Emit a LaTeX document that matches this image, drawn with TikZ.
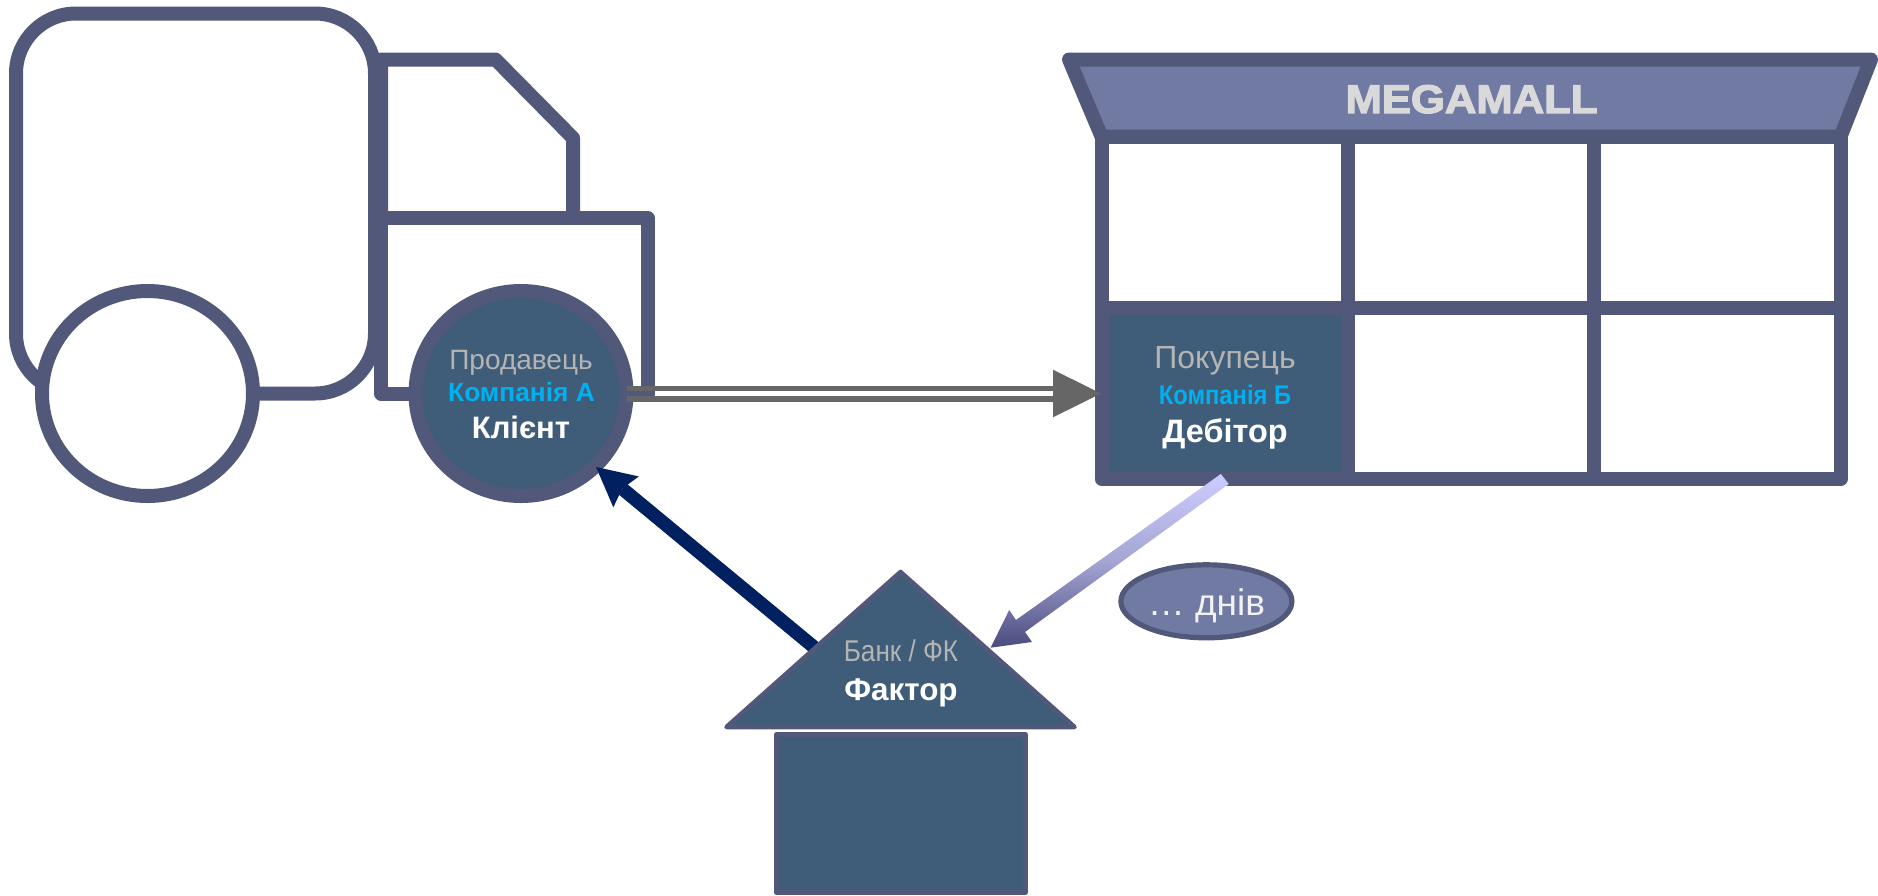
\documentclass[tikz,border=0pt]{standalone}
\usepackage{fontspec}
\usepackage{graphicx}
\setmainfont{Liberation Sans}
\newfontfamily\heavyfont[UprightFont={Liberation Sans Bold},UprightFeatures={FakeBold=3}]{Liberation Sans}
\usetikzlibrary{arrows.meta,calc,shapes.geometric}
\definecolor{slateline}{HTML}{52587A}
\definecolor{tealfill}{HTML}{3F5D78}
\definecolor{awning}{HTML}{717AA3}
\definecolor{greyarrow}{HTML}{666666}
\definecolor{navyarrow}{HTML}{002060}
\definecolor{cyantext}{HTML}{00B0F0}
\definecolor{greytext}{HTML}{B4B4B4}
\definecolor{paylight}{HTML}{CCCCFF}
\definecolor{paymid}{HTML}{A5A5D4}
\definecolor{paydark}{HTML}{4A4C7E}
\tikzset{
  x=1pt,y=-1pt,
  outline/.style={draw=slateline,line width=14pt,line join=round,fill=white},
  barline/.style={draw=slateline,line width=14pt,line join=round},
  thinoutline/.style={draw=slateline,line width=4.6pt,line join=round,fill=tealfill},
  txt/.style={anchor=base,inner sep=0pt,outer sep=0pt},
  roletext/.style={txt,text=greytext},
  companytext/.style={txt,text=cyantext,font=\bfseries},
  whitetext/.style={txt,text=white,font=\bfseries},
  wheelnode/.style={ellipse,minimum width=211pt,minimum height=205pt,inner sep=0pt,outer sep=0pt,outline},
  greybar/.style={draw=greyarrow,line width=5.4pt},
}
\begin{document}
\begin{tikzpicture}
\useasboundingbox (0,0) rectangle (1878,895);
% truck
\draw[outline,rounded corners=60pt] (16,13.5) rectangle (375,393.5);
\draw[barline,fill=white] (381,59.5) -- (495.5,59.5) -- (573,138) -- (573,218) -- (381,218) -- cycle;
\draw[barline,fill=white] (381,218) -- (647.5,218) -- (647.5,393.5) -- (381,393.5) -- cycle;
\node[wheelnode] (rearwheel) at (147.5,393.5) {};
\node[wheelnode,fill=tealfill] (seller) at (521,393.5) {};
% store
\draw[barline,fill=awning] (1069,59.5) -- (1871,59.5) -- (1840.5,136.5) -- (1101.5,136.5) -- cycle;
\fill[tealfill] (1101.5,308) rectangle (1348,479);
\draw[barline] (1101.5,136.5) rectangle (1840.5,479);
\draw[barline] (1101.5,308) -- (1840.5,308);
\draw[barline] (1348,136.5) -- (1348,479);
\draw[barline] (1594,136.5) -- (1594,479);
\coordinate (buyer) at (1101,393.5);
% bank
\coordinate (bankedge) at (815,648);
\coordinate (sellertip) at (596,467);
\draw[navyarrow,line width=13.5pt,-{Stealth[length=39pt,width=40pt,inset=5pt,line width=0pt]}] (bankedge) -- (sellertip);
\draw[thinoutline] (900.5,572) -- (1074.5,727) -- (726.5,727) -- cycle;
\draw[thinoutline] (776.5,734.5) rectangle (1025.5,892.5);
\coordinate (banktip) at (990.6,647.7);
% sale arrow
\coordinate (saleA) at (627,388.3);
\coordinate (saleB) at (627,399);
\coordinate (saleC) at (1054,388.3);
\coordinate (saleD) at (1054,399);
\draw[greybar] (saleA) -- (saleC);
\draw[greybar] (saleB) -- (saleD);
\coordinate (headbase) at (1053,393.5);
\fill[greyarrow] (headbase) ++(0,-23.8) -- (buyer) -- (1053,417.3) -- cycle;
% payment arrow
\coordinate (tailA) at (1220.8,474);
\coordinate (tailB) at (1228.7,484);
\shade[top color=paylight,bottom color=paydark,middle color=paymid]
  (tailA) -- (1016,620) -- (1009.2,610) -- (banktip) -- (1032,642) -- (1025,632) -- (tailB) -- cycle;
% ellipse
\draw[draw=slateline,line width=5.2pt,fill=awning] (1206.4,601.3) ellipse [x radius=85.5pt,y radius=36.5pt];
% labels
\node[roletext,font=\fontsize{28}{28}\selectfont] (sellerrole) at (521,369.3) {Продавець};
\node[companytext,font=\fontsize{26.3}{27}\bfseries\selectfont] (sellerco) at (521.5,401) {Компанія А};
\node[whitetext,font=\fontsize{31}{31}\bfseries\selectfont] (sellerclient) at (521,438) {Клієнт};
\node[txt,text=white!85!black,font=\fontsize{40}{40}\heavyfont] (mall) at (1471.5,113) {\scalebox{1.09}[1]{MEGAMALL}};
\node[roletext,font=\fontsize{32}{32}\selectfont] (buyerrole) at (1225,368) {Покупець};
\node[companytext,font=\fontsize{27}{27}\bfseries\selectfont] (buyerco) at (1225,404) {\scalebox{.88}[1]{Компанія Б}};
\node[whitetext,font=\fontsize{32.4}{32}\bfseries\selectfont] (buyerdebt) at (1225,442) {Дебітор};
\node[roletext,font=\fontsize{30}{30}\selectfont] (bankrole) at (901,661.7) {\scalebox{.87}[1]{Банк / ФК}};
\node[whitetext,font=\fontsize{31.4}{31}\bfseries\selectfont] (factor) at (901,700) {Фактор};
\node[txt,text=white!95!black,font=\fontsize{37}{37}\selectfont] (days) at (1206.5,615.5) {… днів};
\end{tikzpicture}
\end{document}
